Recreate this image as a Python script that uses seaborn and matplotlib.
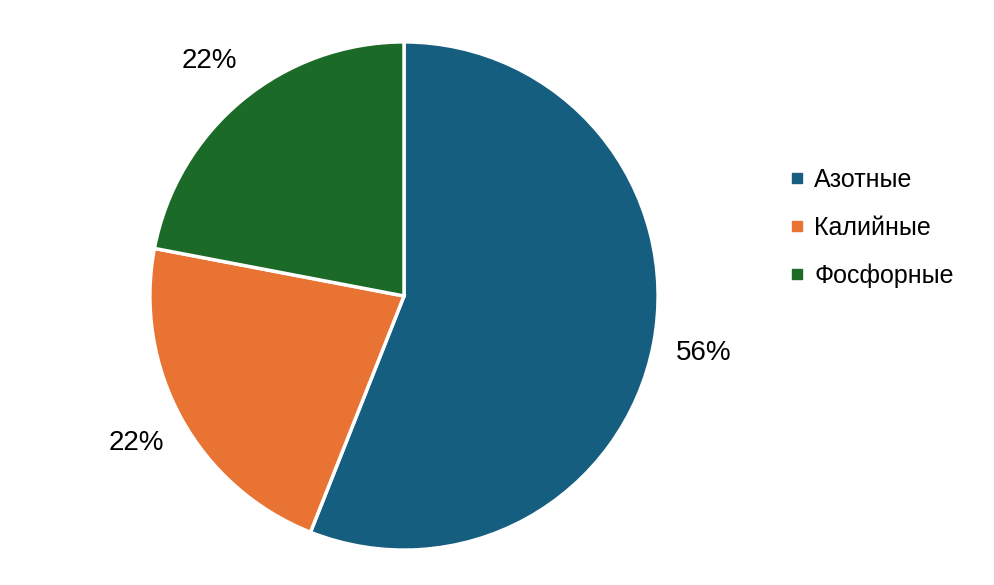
import matplotlib
matplotlib.use("Agg")
import matplotlib.pyplot as plt
from matplotlib.lines import Line2D
import seaborn as sns

categories = ["Азотные", "Калийные", "Фосфорные"]
shares = [56, 22, 22]
colors = ["#165E80", "#E87332", "#1C6A28"]

sns.set_theme(style="white")
plt.rcParams['font.family'] = ['Liberation Sans', 'DejaVu Sans']

fig = plt.figure(figsize=(9.95, 5.85), dpi=100)
# square axes so the pie sits where the reference has it
ax = fig.add_axes([124.5 / 995, 9.5 / 585, 559 / 995, 559 / 585])

wedges, texts, autotexts = ax.pie(
    shares, colors=colors, startangle=90, counterclock=False,
    autopct=lambda p: f"{p:.0f}%", pctdistance=1.2,
    wedgeprops={'edgecolor': 'white', 'linewidth': 2.5},
    textprops={'fontsize': 20, 'color': 'black'})
ax.set_xlim(-1.1, 1.1)
ax.set_ylim(-1.1, 1.1)
ax.set_aspect('equal')
ax.axis('off')

handles = [Line2D([], [], marker='s', linestyle='none', markersize=7.5,
                  markerfacecolor=c, markeredgecolor=c) for c in colors]
leg = fig.legend(handles, categories, loc='center left',
                 bbox_to_anchor=(778 / 995, 1 - 228 / 585), frameon=False,
                 fontsize=18, labelspacing=0.95, handlelength=0.5,
                 handletextpad=0.45, borderpad=0)
for t in leg.get_texts():
    t.set_color('black')

fig.savefig("out.png", dpi=100)
